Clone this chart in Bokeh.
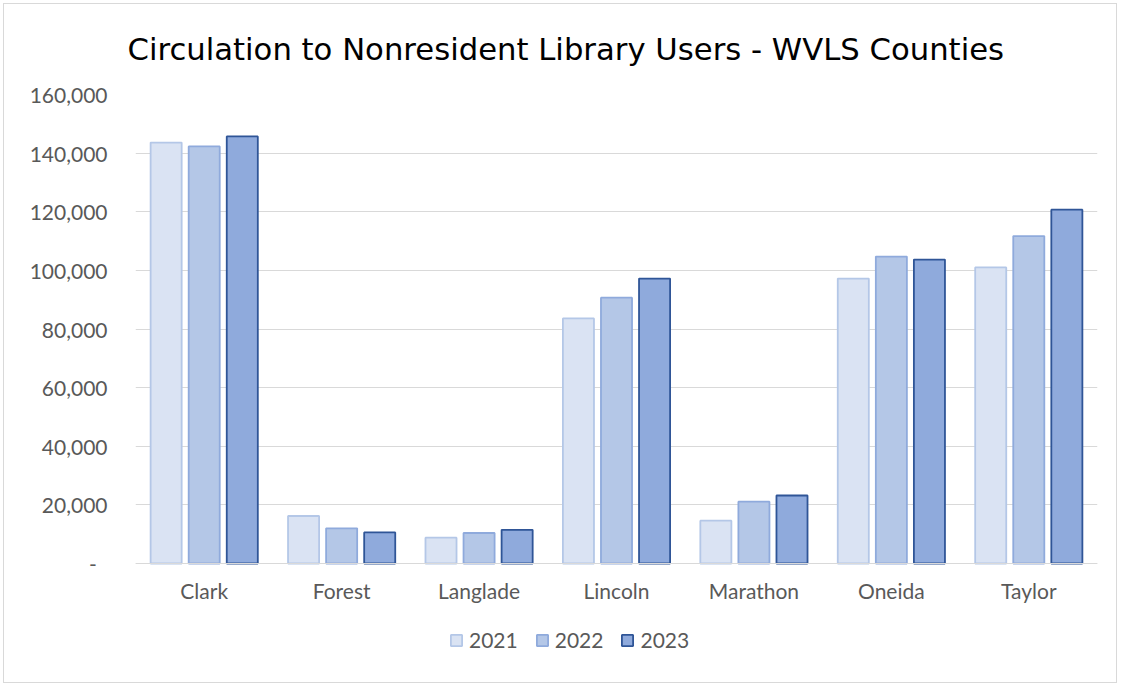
from bokeh.plotting import figure
from bokeh.models import FactorRange, Range1d, FixedTicker, NumeralTickFormatter, Legend, LegendItem
from bokeh.transform import dodge
from bokeh.models import ColumnDataSource
from bokeh.embed import file_html
from bokeh.resources import INLINE

counties = ["Clark", "Forest", "Langlade", "Lincoln", "Marathon", "Oneida", "Taylor"]
years = ["2021", "2022", "2023"]
v2021 = [143600, 16200, 8800, 83600, 14600, 97200, 101000]
v2022 = [142300, 12000, 10400, 90700, 21100, 104700, 111700]
v2023 = [145700, 10600, 11500, 97200, 23200, 103700, 120700]
y_ticks = [0, 20000, 40000, 60000, 80000, 100000, 120000, 140000, 160000]

fills = ["#DAE3F3", "#B4C7E7", "#8FAADC"]
lines = ["#B4C7E7", "#8FAADC", "#2F5597"]
offsets = [-0.277, 0.0, 0.277]

src = ColumnDataSource(dict(county=counties, y2021=v2021, y2022=v2022, y2023=v2023))

FONT = "Lato"
GRAY = "#595959"

# layout geometry (pixels)
H = 686
TOP = 94          # frame top (160,000 line)
ZERO = 563        # y of the zero line
BOTTOM_PAD = 34   # space below frame reserved by the (fixed) x axis
frame_bottom = H - BOTTOM_PAD
y_max = 160000
y_min = -(frame_bottom - ZERO) * y_max / (ZERO - TOP)

p = figure(width=1120, height=H, x_range=FactorRange(*counties, range_padding=0),
           y_range=Range1d(y_min, y_max), output_backend="svg", toolbar_location=None,
           min_border_left=135, min_border_right=23, min_border_bottom=BOTTOM_PAD, min_border_top=TOP)
p.border_fill_color = None
p.background_fill_color = None
p.styles = {"outline": "1px solid #D9D9D9", "outline-offset": "-4px", "background-color": "white"}

p.title.text = "Circulation to Nonresident Library Users - WVLS Counties"
p.title.text_font = "DejaVu Sans"
p.title.text_font_size = "30.7px"
p.title.text_font_style = "normal"
p.title.text_color = "#000000"
p.title.align = "left"
p.title.offset = -8
p.title.standoff = 56

renderers = []
for yr, col, fc, lc, off in zip(years, ["y2021", "y2022", "y2023"], fills, lines, offsets):
    r = p.vbar(x=dodge("county", off, range=p.x_range), top=col, bottom=0, width=0.226, source=src,
               fill_color=fc, line_color=lc, line_width=1.8)
    renderers.append((yr, r))

p.outline_line_color = None
p.xgrid.grid_line_color = None
p.ygrid.grid_line_color = "#D9D9D9"
p.ygrid.grid_line_width = 1

p.yaxis.ticker = FixedTicker(ticks=y_ticks)
p.yaxis.formatter = NumeralTickFormatter(format="0,0")
p.yaxis.major_label_overrides = {0: "-\u00a0\u00a0"}
p.yaxis.axis_line_color = None
p.yaxis.major_tick_line_color = None
p.yaxis.minor_tick_line_color = None
p.yaxis.major_label_standoff = 22
p.yaxis.major_label_text_font = FONT
p.yaxis.major_label_text_font_size = "21px"
p.yaxis.major_label_text_color = GRAY

p.xaxis.fixed_location = 0
p.xaxis.axis_line_color = "#D9D9D9"
p.xaxis.axis_line_width = 1
p.xaxis.major_tick_line_color = None
p.xaxis.minor_tick_line_color = None
p.xaxis.major_label_standoff = 8
p.xaxis.major_label_text_font = FONT
p.xaxis.major_label_text_font_size = "21px"
p.xaxis.major_label_text_color = GRAY

legend = Legend(items=[LegendItem(label=yr, renderers=[r]) for yr, r in renderers],
                orientation="horizontal", location=(314, 0),
                glyph_width=14, glyph_height=14, label_standoff=6, spacing=17,
                padding=0, margin=0, border_line_color=None, background_fill_alpha=0,
                label_text_font=FONT, label_text_font_size="21px", label_text_color=GRAY)
p.add_layout(legend, "center")

open("out.html", "w").write(file_html(p, INLINE))
